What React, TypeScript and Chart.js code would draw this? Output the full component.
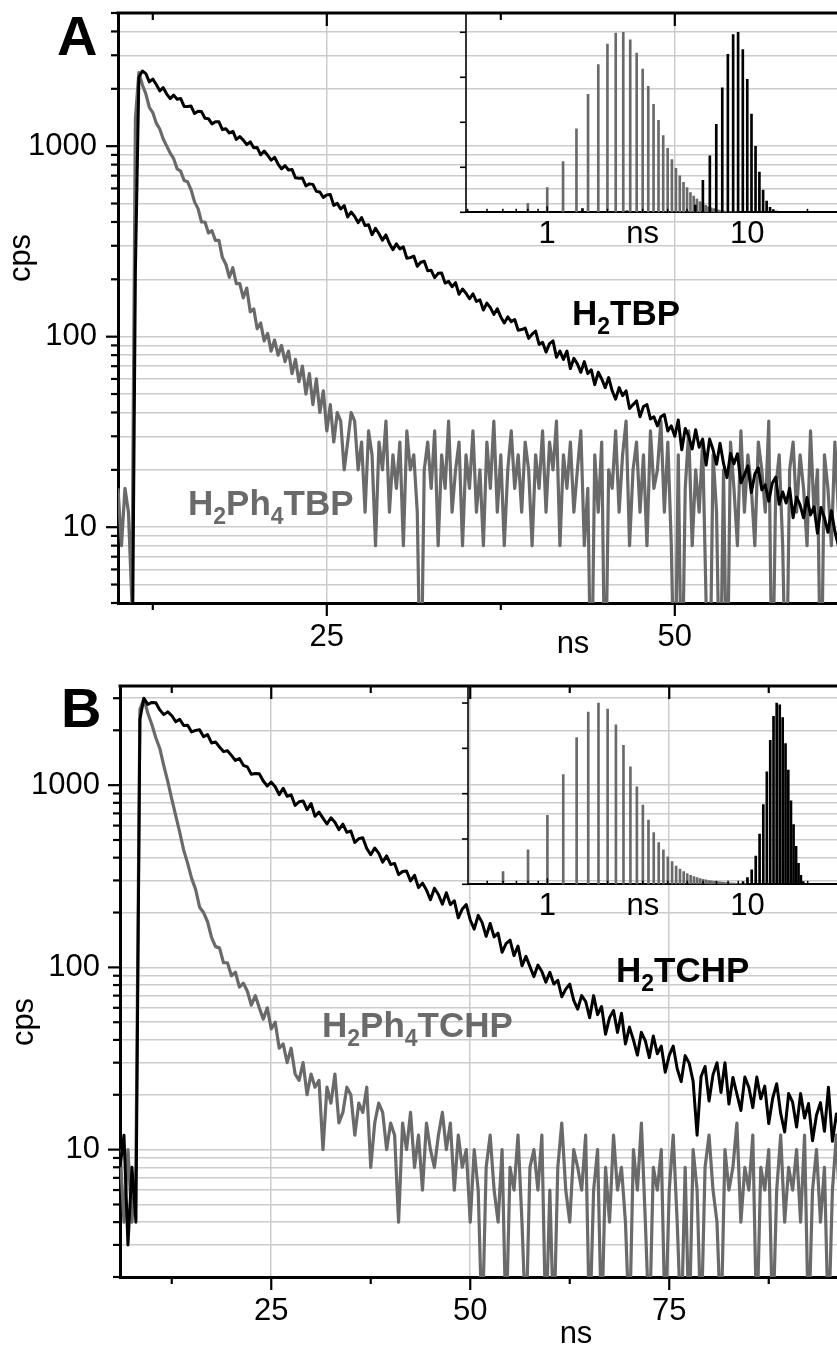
import React, { useEffect, useRef } from 'react';
import { Chart, registerables } from 'chart.js';

Chart.register(...registerables);

const FONT = '"Liberation Sans", Arial, Helvetica, sans-serif';
const GRID = '#cccccc';
const GREY = '#6a6a6a';

// ---------------- Panel A: decays (cps), channels of 0.25 ns from 10 ns ----------------
const A_T0 = 10;
const A_DT = 0.25;
const A_H2TBP = [
  1, 1, 1, 1,
  1, 220, 2300, 2480,
  2402, 2174, 2250, 2107,
  1952, 2028, 1877, 1776,
  1853, 1764, 1780, 1616,
  1613, 1623, 1483, 1523,
  1519, 1401, 1394, 1309,
  1345, 1342, 1222, 1234,
  1172, 1198, 1086, 1123,
  1076, 1019, 1054, 982,
  983, 901, 943, 896,
  844, 874, 806, 760,
  791, 750, 755, 682,
  679, 680, 619, 634,
  630, 579, 575, 538,
  555, 558, 489, 501,
  468, 488, 425, 451,
  428, 397, 422, 383,
  387, 343, 371, 347,
  321, 342, 308, 286,
  307, 289, 296, 258,
  260, 265, 234, 246,
  249, 222, 223, 204,
  215, 216, 191, 195,
  183, 192, 167, 178,
  169, 158, 168, 153,
  156, 138, 150, 142,
  131, 140, 127, 118,
  127, 120, 123, 108,
  109, 111, 98, 103,
  107, 91, 93.5, 83,
  92, 95, 78, 84,
  76, 84, 68, 77,
  72, 65, 74, 64,
  67, 56, 65, 60,
  54, 61, 52, 47,
  54, 49, 52, 42,
  44, 46, 38, 43,
  44, 37, 38, 34,
  38, 39, 32, 34,
  30, 36.5, 25.5, 33,
  30, 25.7, 32.5, 26.3,
  29, 21.2, 29, 25.5,
  21.4, 27.6, 21.6, 18.2,
  24.4, 21.5, 24.3, 17.1,
  18.8, 21, 15.2, 19,
  20.5, 15.7, 16.7, 13.7,
  17, 18.3, 13.2, 15.3,
  13.4, 16, 11.2, 14.4,
  13.1, 11.2, 14.3, 11.6,
  12.8, 9.3, 12.7, 11.2,
  9.4, 12.2, 9.5, 8,
];
const A_H2PH4TBP = [
  16, 8, 16, 12,
  4, 1400, 2430, 2100,
  1880, 1600, 1500, 1320,
  1230, 1090, 1000, 920,
  860, 760, 740, 660,
  650, 590, 510, 470,
  400, 400, 350, 360,
  320, 320, 260, 240,
  205, 230, 190, 190,
  160, 180, 135, 140,
  110, 118, 95, 104,
  84, 96, 80, 90,
  74, 84, 64, 76,
  58, 70, 50, 64,
  44, 60, 40, 52,
  32, 44, 28, 40,
  36, 20, 28, 40,
  36, 20, 28, 12,
  32, 24, 8, 28,
  20, 36, 12, 24,
  16, 28, 8, 32,
  20, 24, 12, 1,
  20, 28, 16, 32,
  8, 24, 16, 36,
  12, 20, 28, 8,
  24, 16, 32, 12,
  20, 8, 28, 16,
  36, 12, 24, 8,
  20, 32, 16, 24,
  12, 28, 20, 8,
  24, 16, 32, 12,
  28, 20, 36, 8,
  24, 16, 28, 12,
  20, 32, 8, 16,
  1, 24, 12, 28,
  1, 20, 16, 32,
  12, 24, 36, 8,
  20, 28, 12, 24,
  8, 32, 16, 20,
  36, 12, 28, 8,
  1, 24, 1, 16,
  32, 8, 20, 12,
  28, 4, 1, 24,
  12, 1, 20, 1,
  28, 16, 8, 32,
  12, 24, 16, 8,
  28, 20, 12, 36,
  1, 16, 24, 8,
  1, 20, 28, 12,
  24, 16, 8, 32,
  12, 20, 1, 24,
  16, 8, 28, 12,
];

// ---------------- Panel B: decays (cps), channels of 0.5 ns from 6 ns ----------------
const B_T0 = 6;
const B_DT = 0.5;
const B_H2TCHP = [
  8, 12, 3, 8, 4, 2300,
  3000, 2776, 2843, 2829, 2588, 2438, 2524, 2409, 2226, 2300,
  2123, 2132, 1958, 1998, 2012, 1842, 1893, 1704, 1727, 1620,
  1528, 1546, 1457, 1366, 1399, 1285, 1260, 1147, 1159, 1154,
  1053, 989, 1039, 980, 887, 962, 869, 885, 774, 811,
  819, 733, 793, 675, 711, 659, 612, 662, 626, 570,
  611, 551, 560, 485, 508, 515, 449, 415, 452, 424,
  378, 409, 367, 372, 323, 336, 338, 298, 320, 274,
  290, 266, 235, 272, 251, 222, 257, 221, 232, 187,
  209, 221, 182, 162, 193, 176, 148, 174, 147, 154,
  121, 135, 141, 116, 131, 102, 115, 101, 89, 103,
  95, 83, 94, 81, 85, 69, 76, 81, 66, 59,
  70, 65, 53, 70, 55, 61, 43, 53, 58, 44,
  56, 38, 47, 40, 33, 44, 39.5, 32, 42, 33.6,
  37, 26.6, 32.9, 37, 27.8, 23.6, 32.8, 29.9, 23.7, 12,
  25.2, 28.6, 18.5, 25.8, 30, 20.6, 30, 17.8, 24.9, 20.2,
  16.4, 25, 22, 17, 25, 19, 22.3, 13.9, 19.2, 23,
  15.8, 12.5, 20.3, 18.2, 13.3, 20.3, 14.9, 17.9, 11.2, 15.5,
  18.1, 12.6, 22, 11.1, 15.7, 12.7, 10.3,
];
const B_H2PH4TCHP = [
  10, 4, 10, 4, 8, 2600,
  2980, 2480, 2150, 1820, 1590, 1280, 1050, 840, 680, 552,
  440, 372, 308, 268, 214, 200, 178, 146, 130, 128,
  106, 106, 90, 94, 78, 82, 74, 62, 70, 60,
  52, 60, 46, 50, 36, 38, 30, 36, 26, 24,
  30, 20, 26, 22, 24, 10, 22, 18, 26, 14,
  16, 22, 20, 12, 18, 16, 22, 8, 14, 18,
  16, 10, 14, 12, 4, 14, 10, 16, 8, 12,
  6, 14, 10, 8, 12, 16, 10, 14, 6, 12,
  8, 10, 4, 10, 6, 1, 8, 12, 6, 4,
  10, 1, 8, 6, 12, 4, 1, 8, 10, 6,
  12, 1, 6, 1, 8, 14, 6, 4, 10, 8,
  6, 12, 1, 6, 10, 1, 8, 4, 12, 6,
  8, 4, 1, 10, 6, 14, 4, 1, 8, 6,
  10, 1, 6, 12, 4, 1, 8, 1, 10, 6,
  1, 8, 12, 6, 4, 1, 10, 6, 8, 14,
  4, 8, 6, 12, 1, 8, 6, 10, 1, 6,
  12, 4, 8, 6, 10, 4, 12, 1, 6, 10,
  4, 8, 1, 6, 12, 4, 8,
];

// ---------------- Insets: lifetime distributions (% of maximum) ----------------
const IA_GREY_T0 = 0.8;
const IA_GREY_DT = 0.2;
const IA_GREY = [
  5, 13.7, 28.2, 46.3, 65.5, 82.1, 93.5, 99.6, 100, 95.8,
  88.4, 79.5, 69.9, 60, 51.1, 42.6, 35.6, 29.3, 24.4, 20.3,
  16.6, 13.7, 11, 9, 7.4, 5.9, 4.8, 3.9, 3.1, 2.5,
  2.0, 1.6, 1.3, 1.0, 0.8, 0.6, 0.5, 0.4, 0.3, 0.25, 0.2, 0.15,
];
const IA_BLACK_T0 = 1.5;
const IA_BLACK_DT = 0.5;
const IA_BLACK = [
  2, 0, 0.8, 0, 0.6, 0, 0, 0, 4,
  17.8, 31.3, 48.9, 69.1, 87.7, 98.7, 100, 90.4, 73.9, 54.6,
  36.6, 22.4, 12.3, 6.3, 2.8, 1.5, 0.7,
];
const IB_GREY_T0 = 0.6;
const IB_GREY_DT = 0.2;
const IB_GREY = [
  7, 19, 38, 60.5, 81, 95, 100, 96.7, 88, 76.7,
  64.8, 53.8, 43.7, 35.4, 28.6, 23, 19, 15.2, 12.5, 10,
  8.4, 7, 5.9, 5, 4.2, 3.7, 3.1, 2.7, 2.4, 2.1,
  1.9, 1.7, 1.5, 1.3, 1.2, 1.1, 1.0, 0.9, 0.8, 0.7,
  0.7, 0.6, 0.6, 0.5, 0.5, 0.4, 0.4,
];
const IB_BLACK_T0 = 9.5;
const IB_BLACK_DT = 0.5;
const IB_BLACK = [
  1.5, 3.7, 8, 15.6, 27.7, 44, 62, 79.4, 92.7, 100,
  99, 92, 77.6, 63, 46, 33, 21, 11.6, 5, 1.5,
];

// ---------------- Axis ticks / labels ----------------
const Y_LABELS = [10, 100, 1000];
const X_MAJOR_A = [25, 50, 75];
const X_MINOR_A = [12.5, 37.5, 62.5];
const X_MAJOR_B = [25, 50, 75, 100];
const X_MINOR_B = [12.5, 37.5, 62.5, 87.5, 112.5];
const INSET_X_LABELS = [1, 3, 10];
const INSET_Y_TICKS = [0, 25, 50, 75, 100];

const W = 1080;

function logTicks(min: number, max: number, eMin: number, eMax: number) {
  const out: number[] = [];
  for (let e = eMin; e <= eMax; e++) {
    for (let m = 1; m < 10; m++) {
      const v = parseFloat((m * Math.pow(10, e)).toPrecision(6));
      if (v >= min - 1e-9 && v <= max + 1e-9) out.push(v);
    }
  }
  return out;
}

const toPoints = (t0: number, dt: number, vals: number[]) =>
  vals.map((v, i) => ({ x: parseFloat((t0 + i * dt).toFixed(3)), y: v }));

type Part = [string, boolean];
type Txt =
  | { kind: 'chem'; parts: Part[]; x: number; y: number; color: string }
  | { kind: 'plain'; text: string; x: number; y: number; font: string; align: CanvasTextAlign }
  | { kind: 'rot'; text: string; x: number; y: number; font: string };

function decorPlugin(p: any) {
  return {
    id: 'decor',
    afterDraw(chart: any) {
      const { ctx, chartArea: ca } = chart;
      const xs = chart.scales.x;
      const ys = chart.scales.y;
      const seg = (x1: number, y1: number, x2: number, y2: number) => {
        ctx.beginPath();
        ctx.moveTo(x1, y1);
        ctx.lineTo(x2, y2);
        ctx.stroke();
      };
      ctx.save();
      ctx.strokeStyle = '#000';
      ctx.lineWidth = 3;
      seg(ca.left - 1.5, ca.top, ca.right, ca.top);
      ctx.lineWidth = 2.2;
      for (const v of p.xMajor) {
        const px = xs.getPixelForValue(v);
        seg(px, ca.bottom, px, ca.bottom + 13);
        seg(px, ca.top, px, ca.top + 13);
      }
      for (const v of p.xMinor) {
        const px = xs.getPixelForValue(v);
        seg(px, ca.bottom, px, ca.bottom + 7);
        seg(px, ca.top, px, ca.top + 7);
      }
      for (const v of p.yTicks) {
        const py = ys.getPixelForValue(v);
        const len = Y_LABELS.includes(v) ? 12 : 7;
        seg(ca.left - len, py, ca.left, py);
      }
      for (const t of p.texts as Txt[]) {
        if (t.kind === 'chem') {
          ctx.fillStyle = t.color;
          ctx.textAlign = 'left';
          ctx.textBaseline = 'alphabetic';
          let cx = t.x;
          for (const [s, sub] of t.parts) {
            ctx.font = `bold ${sub ? 23 : 35}px ${FONT}`;
            ctx.fillText(s, cx, sub ? t.y + 9 : t.y);
            cx += ctx.measureText(s).width;
          }
        } else if (t.kind === 'plain') {
          ctx.fillStyle = '#000';
          ctx.font = t.font;
          ctx.textAlign = t.align;
          ctx.textBaseline = 'alphabetic';
          ctx.fillText(t.text, t.x, t.y);
        } else {
          ctx.save();
          ctx.translate(t.x, t.y);
          ctx.rotate(-Math.PI / 2);
          ctx.fillStyle = '#000';
          ctx.font = t.font;
          ctx.textAlign = 'center';
          ctx.textBaseline = 'alphabetic';
          ctx.fillText(t.text, 0, 0);
          ctx.restore();
        }
      }
      ctx.restore();
    },
  };
}

function mainConfig(p: any): any {
  const yTicks = logTicks(p.yMin, p.yMax, 0, 4);
  const xTicks = [...p.xMajor, ...p.xMinor].sort((a: number, b: number) => a - b);
  return {
    type: 'line',
    data: {
      datasets: [
        { data: p.black, borderColor: '#000', borderWidth: 3, pointRadius: 0, tension: 0, borderJoinStyle: 'round' },
        { data: p.grey, borderColor: GREY, borderWidth: 3.2, pointRadius: 0, tension: 0, borderJoinStyle: 'round' },
      ],
    },
    options: {
      responsive: false,
      animation: false,
      events: [],
      layout: { padding: { left: 0, top: p.top, right: W - p.right, bottom: 0 } },
      plugins: { legend: { display: false }, tooltip: { enabled: false } },
      scales: {
        x: {
          type: 'linear',
          min: p.xMin,
          max: p.xMax,
          afterFit: (s: any) => {
            s.height = p.height - p.bottom;
            s.paddingLeft = 0;
            s.paddingRight = 0;
          },
          afterBuildTicks: (s: any) => { s.ticks = xTicks.map((v: number) => ({ value: v })); },
          ticks: {
            autoSkip: false,
            maxRotation: 0,
            padding: 15.5,
            color: '#000',
            font: { family: FONT, size: 31 },
            callback: (v: number) => (p.xMajor.includes(v) ? String(v) : ''),
          },
          grid: {
            drawTicks: false,
            lineWidth: 1.5,
            color: (c: any) => (c.tick && p.xMajor.includes(c.tick.value) ? GRID : 'rgba(0,0,0,0)'),
          },
          border: { display: true, color: '#000', width: 3 },
        },
        y: {
          type: 'logarithmic',
          min: p.yMin,
          max: p.yMax,
          afterFit: (s: any) => {
            s.width = p.left;
            s.paddingTop = 0;
            s.paddingBottom = 0;
          },
          afterBuildTicks: (s: any) => { s.ticks = yTicks.map((v) => ({ value: v })); },
          ticks: {
            autoSkip: false,
            padding: p.yPad,
            color: '#000',
            font: { family: FONT, size: 31 },
            callback: (v: number) => (Y_LABELS.includes(v) ? String(v) : ''),
          },
          grid: { drawTicks: false, lineWidth: 1.5, color: GRID },
          border: { display: true, color: '#000', width: 3 },
        },
      },
    },
    plugins: [decorPlugin({ xMajor: p.xMajor, xMinor: p.xMinor, yTicks, texts: p.texts })],
  };
}

function insetConfig(p: any): any {
  const minorX = logTicks(p.xMin, p.xMax, -1, 2);
  return {
    type: 'bar',
    data: {
      datasets: [
        { data: p.black, backgroundColor: '#000', barThickness: 2, grouped: false, borderWidth: 0 },
        { data: p.grey, backgroundColor: GREY, barThickness: 2, grouped: false, borderWidth: 0 },
      ],
    },
    options: {
      responsive: false,
      animation: false,
      events: [],
      layout: { padding: { left: p.left, top: p.top, right: W - p.right, bottom: 0 } },
      plugins: { legend: { display: false }, tooltip: { enabled: false } },
      scales: {
        x: {
          type: 'logarithmic',
          min: p.xMin,
          max: p.xMax,
          offset: false,
          afterFit: (s: any) => {
            s.height = p.height - p.bottom;
            s.paddingLeft = 0;
            s.paddingRight = 0;
          },
          afterBuildTicks: (s: any) => { s.ticks = INSET_X_LABELS.map((v) => ({ value: v })); },
          ticks: {
            autoSkip: false,
            maxRotation: 0,
            padding: 3.5,
            color: '#000',
            font: { family: FONT, size: 31 },
            callback: (v: number) => (v === 3 ? 'ns' : String(v)),
          },
          grid: { display: false, offset: false, drawTicks: false },
          border: { display: true, color: '#000', width: 2 },
        },
        y: { type: 'linear', min: 0, max: p.yMax, display: false },
      },
    },
    plugins: [
      {
        id: 'insetDecor',
        afterDraw(chart: any) {
          const { ctx, chartArea: ca } = chart;
          const xs = chart.scales.x;
          const ys = chart.scales.y;
          const seg = (x1: number, y1: number, x2: number, y2: number) => {
            ctx.beginPath();
            ctx.moveTo(x1, y1);
            ctx.lineTo(x2, y2);
            ctx.stroke();
          };
          ctx.save();
          ctx.strokeStyle = '#000';
          ctx.lineWidth = 1.6;
          seg(ca.left, ca.top, ca.left, ca.bottom);
          for (const v of INSET_Y_TICKS) {
            const py = ys.getPixelForValue(v);
            seg(ca.left - 6, py, ca.left, py);
          }
          ctx.lineWidth = 1.5;
          for (const v of minorX) {
            const px = xs.getPixelForValue(v);
            if (px <= ca.left + 1 || px > ca.right) continue;
            const len = v === 1 || v === 10 || v === 100 ? 6 : 3.5;
            seg(px, ca.bottom, px, ca.bottom - len);
          }
          ctx.restore();
        },
      },
    ],
  };
}

export default function App() {
  const aMain = useRef<HTMLCanvasElement>(null);
  const aInset = useRef<HTMLCanvasElement>(null);
  const bMain = useRef<HTMLCanvasElement>(null);
  const bInset = useRef<HTMLCanvasElement>(null);

  useEffect(() => {
    Chart.defaults.font.family = FONT;
    Chart.defaults.color = '#000';
    const big = `31px ${FONT}`;
    const charts: Chart[] = [];
    charts.push(
      new Chart(
        aMain.current as HTMLCanvasElement,
        mainConfig({
          height: 660, top: 13, bottom: 603, left: 118, right: 118 + 65 * 13.92,
          xMin: 10, xMax: 75, yMin: 4, yMax: 5000, yPad: 21,
          xMajor: X_MAJOR_A, xMinor: X_MINOR_A,
          black: toPoints(A_T0, A_DT, A_H2TBP),
          grey: toPoints(A_T0, A_DT, A_H2PH4TBP),
          texts: [
            { kind: 'plain', text: 'A', x: 57, y: 55, font: `bold 56px ${FONT}`, align: 'left' },
            { kind: 'rot', text: 'cps', x: 30, y: 258, font: big },
            { kind: 'plain', text: 'ns', x: 573, y: 653, font: big, align: 'center' },
            { kind: 'chem', parts: [['H', false], ['2', true], ['TBP', false]], x: 572, y: 325, color: '#000' },
            { kind: 'chem', parts: [['H', false], ['2', true], ['Ph', false], ['4', true], ['TBP', false]], x: 188, y: 515, color: GREY },
          ],
        })
      )
    );
    charts.push(
      new Chart(
        aInset.current as HTMLCanvasElement,
        insetConfig({
          height: 260, top: 13, bottom: 212.3, left: 466, right: 947.3,
          xMin: 0.3926, xMax: 100, yMax: 110.7,
          black: toPoints(IA_BLACK_T0, IA_BLACK_DT, IA_BLACK),
          grey: toPoints(IA_GREY_T0, IA_GREY_DT, IA_GREY),
        })
      )
    );
    charts.push(
      new Chart(
        bMain.current as HTMLCanvasElement,
        mainConfig({
          height: 1349, top: 686, bottom: 1277, left: 120, right: 120 + 114 * 7.96,
          xMin: 6, xMax: 120, yMin: 2, yMax: 3500, yPad: 20,
          xMajor: X_MAJOR_B, xMinor: X_MINOR_B,
          black: toPoints(B_T0, B_DT, B_H2TCHP),
          grey: toPoints(B_T0, B_DT, B_H2PH4TCHP),
          texts: [
            { kind: 'plain', text: 'B', x: 61, y: 727, font: `bold 56px ${FONT}`, align: 'left' },
            { kind: 'rot', text: 'cps', x: 33, y: 1022, font: big },
            { kind: 'plain', text: 'ns', x: 576, y: 1343, font: big, align: 'center' },
            { kind: 'chem', parts: [['H', false], ['2', true], ['TCHP', false]], x: 616, y: 982, color: '#000' },
            { kind: 'chem', parts: [['H', false], ['2', true], ['Ph', false], ['4', true], ['TCHP', false]], x: 322, y: 1037, color: GREY },
          ],
        })
      )
    );
    charts.push(
      new Chart(
        bInset.current as HTMLCanvasElement,
        insetConfig({
          height: 940, top: 686, bottom: 884.3, left: 468, right: 947.5,
          xMin: 0.4009, xMax: 100, yMax: 109.4,
          black: toPoints(IB_BLACK_T0, IB_BLACK_DT, IB_BLACK),
          grey: toPoints(IB_GREY_T0, IB_GREY_DT, IB_GREY),
        })
      )
    );
    return () => charts.forEach((c) => c.destroy());
  }, []);

  const cv = (ref: React.RefObject<HTMLCanvasElement>, h: number) => (
    <canvas
      ref={ref}
      width={W}
      height={h}
      style={{ position: 'absolute', left: 0, top: 0, width: W, height: h }}
    />
  );

  return (
    <div
      style={{
        position: 'absolute',
        left: 0,
        top: 0,
        width: 837,
        height: 1349,
        overflow: 'hidden',
        background: '#fff',
      }}
    >
      {cv(aMain, 660)}
      {cv(aInset, 260)}
      {cv(bMain, 1349)}
      {cv(bInset, 940)}
    </div>
  );
}
